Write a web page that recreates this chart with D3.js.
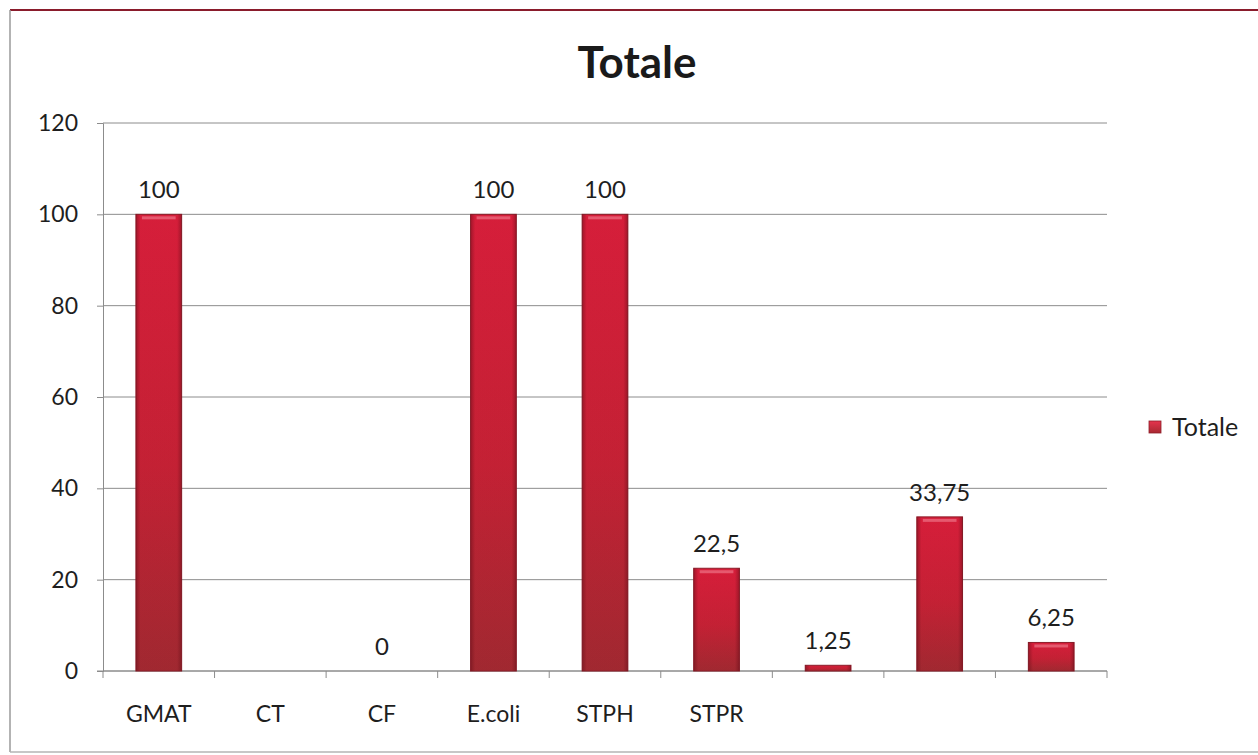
<!DOCTYPE html>
<html>
<head>
<meta charset="utf-8">
<script src="https://cdn.jsdelivr.net/npm/d3@7"></script>
<style>
  html, body { margin: 0; padding: 0; background: #fff; }
  svg { display: block; font-family: Lato, "Open Sans", "Liberation Sans", sans-serif; }
</style>
</head>
<body>
<svg id="chart" width="1258" height="755"></svg>
<script>
// Series data
const categories = ["GMAT", "CT", "CF", "E.coli", "STPH", "STPR", "c7", "c8", "c9"];
const categoryLabels = ["GMAT", "CT", "CF", "E.coli", "STPH", "STPR", "", "", ""];
const values = [100, null, 0, 100, 100, 22.5, 1.25, 33.75, 6.25];
const yTicks = [0, 20, 40, 60, 80, 100, 120];
const seriesName = "Totale";
const chartTitle = "Totale";

const svg = d3.select("#chart");
const plot = { left: 103, right: 1107, top: 123, bottom: 671 };
const fontStack = "Lato, 'Open Sans', sans-serif";
const textColor = "#1e1e1e";

const x = d3.scaleBand().domain(categories).range([plot.left, plot.right]).paddingInner(0.59).paddingOuter(0.295);
const xTicks = d3.scaleBand().domain(categories).range([plot.left, plot.right]);
const y = d3.scaleLinear().domain([0, 120]).range([plot.bottom, plot.top]);

const defs = svg.append("defs");
const gv = defs.append("linearGradient").attr("id", "barV").attr("x1", 0).attr("y1", 0).attr("x2", 0).attr("y2", 1);
gv.append("stop").attr("offset", "0%").attr("stop-color", "#dc1f3c");
gv.append("stop").attr("offset", "55%").attr("stop-color", "#c92236");
gv.append("stop").attr("offset", "100%").attr("stop-color", "#a42a32");
const gh = defs.append("linearGradient").attr("id", "barH").attr("x1", 0).attr("y1", 0).attr("x2", 1).attr("y2", 0);
gh.append("stop").attr("offset", "0%").attr("stop-color", "#5a0a14").attr("stop-opacity", 0.45);
gh.append("stop").attr("offset", "10%").attr("stop-color", "#5a0a14").attr("stop-opacity", 0.05);
gh.append("stop").attr("offset", "90%").attr("stop-color", "#5a0a14").attr("stop-opacity", 0.05);
gh.append("stop").attr("offset", "100%").attr("stop-color", "#5a0a14").attr("stop-opacity", 0.45);
const gl = defs.append("linearGradient").attr("id", "legendG").attr("x1", 0).attr("y1", 0).attr("x2", 0).attr("y2", 1);
gl.append("stop").attr("offset", "0%").attr("stop-color", "#e6344e");
gl.append("stop").attr("offset", "100%").attr("stop-color", "#a82a32");

// Frame
svg.append("line").attr("x1", 10).attr("x2", 1258).attr("y1", 10).attr("y2", 10)
  .attr("stroke", "#8a1c2c").attr("stroke-width", 2);
svg.append("line").attr("x1", 10).attr("x2", 10).attr("y1", 10).attr("y2", 752)
  .attr("stroke", "#9a9a9a").attr("stroke-width", 1.5);
svg.append("line").attr("x1", 10).attr("x2", 1258).attr("y1", 752).attr("y2", 752)
  .attr("stroke", "#b5b5b5").attr("stroke-width", 1.5);

// Title
svg.append("text").attr("x", 637).attr("y", 78).attr("text-anchor", "middle")
  .attr("font-size", 44).attr("font-weight", "bold").attr("fill", "#1a1a1a").text(chartTitle);

// Gridlines
svg.append("g").selectAll("line").data(yTicks).join("line")
  .attr("x1", plot.left).attr("x2", plot.right)
  .attr("y1", d => y(d)).attr("y2", d => y(d))
  .attr("stroke", "#8c8c8c").attr("stroke-width", 1);

// Y axis
const yAxis = svg.append("g").attr("transform", `translate(${plot.left},0)`)
  .call(d3.axisLeft(y).tickValues(yTicks).tickSize(6).tickPadding(19).tickFormat(d3.format("d")));
yAxis.select(".domain").attr("stroke", "#8c8c8c");
yAxis.selectAll(".tick line").attr("stroke", "#8c8c8c");
yAxis.selectAll(".tick text").attr("font-size", 23).attr("fill", textColor).attr("font-family", fontStack);

// X axis
const xAxis = svg.append("g").attr("transform", `translate(0,${plot.bottom})`)
  .call(d3.axisBottom(x).tickSize(0).tickPadding(35).tickFormat((d, i) => categoryLabels[i]));
xAxis.select(".domain").remove();
xAxis.selectAll(".tick text").attr("font-size", 23).attr("fill", textColor).attr("font-family", fontStack);
svg.append("line").attr("x1", plot.left - 6).attr("x2", plot.right).attr("y1", plot.bottom).attr("y2", plot.bottom)
  .attr("stroke", "#8c8c8c");
svg.append("g").selectAll("line").data(categories.concat(["end"])).join("line")
  .attr("x1", (d, i) => i < categories.length ? xTicks(d) : plot.right)
  .attr("x2", (d, i) => i < categories.length ? xTicks(d) : plot.right)
  .attr("y1", plot.bottom).attr("y2", plot.bottom + 7)
  .attr("stroke", "#8c8c8c");

// Bars
const barData = categories.map((c, i) => ({ c, v: values[i] })).filter(d => d.v !== null);
const bars = svg.append("g");
bars.selectAll("rect.base").data(barData.filter(d => d.v > 0)).join("rect")
  .attr("class", "base")
  .attr("x", d => x(d.c)).attr("width", x.bandwidth())
  .attr("y", d => y(d.v)).attr("height", d => y(0) - y(d.v))
  .attr("fill", "url(#barV)").attr("stroke", "#8e1e2a").attr("stroke-width", 1);
bars.selectAll("rect.shade").data(barData.filter(d => d.v > 0)).join("rect")
  .attr("class", "shade")
  .attr("x", d => x(d.c)).attr("width", x.bandwidth())
  .attr("y", d => y(d.v)).attr("height", d => y(0) - y(d.v))
  .attr("fill", "url(#barH)");
bars.selectAll("rect.hl").data(barData.filter(d => y(0) - y(d.v) > 8)).join("rect")
  .attr("class", "hl")
  .attr("x", d => x(d.c) + 6).attr("width", x.bandwidth() - 12)
  .attr("y", d => y(d.v) + 2).attr("height", 3)
  .attr("fill", "#f48a9a").attr("opacity", 0.55);

// Data labels
svg.append("g").selectAll("text").data(barData).join("text")
  .attr("x", d => x(d.c) + x.bandwidth() / 2)
  .attr("y", d => y(d.v) - 16)
  .attr("text-anchor", "middle").attr("font-size", 24).attr("fill", textColor)
  .text(d => String(d.v).replace(".", ","));

// Legend
svg.append("rect").attr("x", 1149).attr("y", 421).attr("width", 12).attr("height", 12)
  .attr("fill", "url(#legendG)").attr("stroke", "#8e1e2a").attr("stroke-width", 0.8);
svg.append("text").attr("x", 1172).attr("y", 436).attr("font-size", 25).attr("fill", textColor).text(seriesName);
</script>
</body>
</html>
